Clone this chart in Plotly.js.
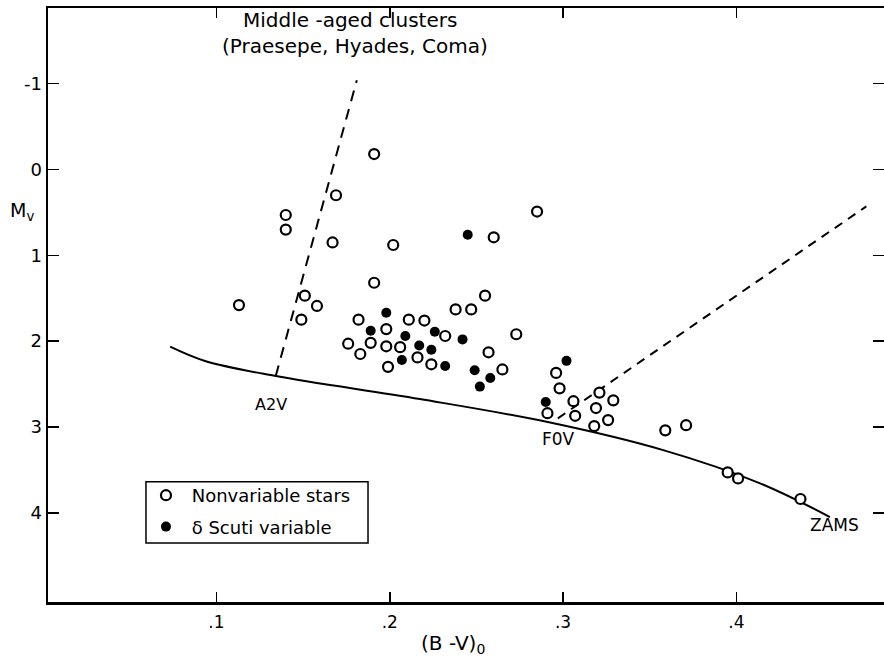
<!DOCTYPE html>
<html>
<head>
<meta charset="utf-8">
<script src="https://cdn.plot.ly/plotly-3.0.1.min.js"></script>
<style>html,body{margin:0;padding:0;background:#fff;}#chart{width:884px;height:665px;}</style>
</head>
<body>
<div id="chart"></div>
<script>
// Nonvariable stars (open circles)
var nonvarBV = [0.191, 0.169, 0.140, 0.140, 0.167, 0.285, 0.260, 0.202, 0.113, 0.151, 0.158, 0.149,
  0.191, 0.255, 0.238, 0.247, 0.182, 0.211, 0.220, 0.273, 0.198, 0.232, 0.176, 0.189, 0.198, 0.206,
  0.183, 0.216, 0.224, 0.199, 0.257, 0.265, 0.296, 0.298, 0.291, 0.306, 0.307, 0.321, 0.329, 0.319,
  0.326, 0.318, 0.359, 0.371, 0.395, 0.401, 0.437];
var nonvarMv = [-0.18, 0.30, 0.53, 0.70, 0.85, 0.49, 0.79, 0.88, 1.58, 1.47, 1.59, 1.75,
  1.32, 1.47, 1.63, 1.63, 1.75, 1.75, 1.76, 1.92, 1.86, 1.94, 2.03, 2.02, 2.06, 2.07,
  2.15, 2.19, 2.27, 2.30, 2.13, 2.33, 2.37, 2.55, 2.84, 2.70, 2.87, 2.60, 2.69, 2.78,
  2.92, 2.99, 3.04, 2.98, 3.53, 3.60, 3.84];
// delta Scuti variables (filled circles)
var dscutiBV = [0.245, 0.198, 0.189, 0.209, 0.226, 0.242, 0.217, 0.224, 0.207, 0.232, 0.249, 0.258, 0.252, 0.302, 0.290];
var dscutiMv = [0.76, 1.67, 1.88, 1.94, 1.89, 1.98, 2.05, 2.10, 2.22, 2.29, 2.34, 2.43, 2.53, 2.23, 2.71];
// ZAMS curve
var zamsBV = [0.0733, 0.0934, 0.1342, 0.2174, 0.2905, 0.3578, 0.4137, 0.454];
var zamsMv = [2.065, 2.232, 2.407, 2.675, 2.940, 3.270, 3.657, 4.05];
// Middle-aged clusters line (from A2V)
var clusterBV = [0.1342, 0.181];
var clusterMv = [2.407, -1.04];
// Line from F0V
var f0BV = [0.297, 0.475];
var f0Mv = [2.90, 0.43];
// tick labels
var xTickVals = [0.1, 0.2, 0.3, 0.4];
var xTickText = ['.1', '.2', '.3', '.4'];
var yTickVals = [-1, 0, 1, 2, 3, 4];
var yTickText = ['-1', '0', '1', '2', '3', '4'];

var FONT = 'DejaVu Sans, Arial, sans-serif';
var NB = '\u00a0';

var traces = [
  {x: zamsBV, y: zamsMv, mode: 'lines', line: {color: '#000', width: 2, shape: 'spline', smoothing: 1}, showlegend: false, hoverinfo: 'skip'},
  {x: clusterBV, y: clusterMv, mode: 'lines', line: {color: '#000', width: 2, dash: '11px,8px'}, showlegend: false, hoverinfo: 'skip'},
  {x: f0BV, y: f0Mv, mode: 'lines', line: {color: '#000', width: 2, dash: '9px,7px'}, showlegend: false, hoverinfo: 'skip'},
  {x: nonvarBV, y: nonvarMv, mode: 'markers', name: NB + 'Nonvariable stars' + NB + NB, legendgroup: 'a',
   marker: {symbol: 'circle', size: 10, color: '#fff', line: {color: '#000', width: 2.2}}},
  {x: dscutiBV, y: dscutiMv, mode: 'markers', name: NB + 'δ Scuti variable', legendgroup: 'b',
   marker: {symbol: 'circle', size: 10, color: '#000', line: {color: '#000', width: 0}}}
];

var layout = {
  width: 884, height: 665,
  margin: {l: 48, r: 0, t: 8, b: 63},
  paper_bgcolor: '#fff', plot_bgcolor: '#fff',
  font: {family: FONT, size: 17, color: '#000'},
  showlegend: true,
  legend: {x: 0.1172, y: 0.2104, xanchor: 'left', yanchor: 'top', bgcolor: 'rgba(0,0,0,0)',
           borderwidth: 0, font: {family: FONT, size: 18, color: '#000'},
           traceorder: 'grouped', tracegroupgap: 5},
  shapes: [
    {type: 'rect', xref: 'paper', yref: 'paper', x0: 0.1172, x1: 0.3828, y0: 0.0993, y1: 0.2025,
     line: {color: '#000', width: 1.5}, fillcolor: '#fff', layer: 'above'}
  ],
  xaxis: {range: [0.0028, 0.4852], tickvals: xTickVals, ticktext: xTickText,
          ticks: 'inside', ticklen: 10, tickwidth: 1.5, tickcolor: '#000',
          showline: true, linewidth: 2.5, linecolor: '#000', mirror: 'ticks',
          showgrid: false, zeroline: false, ticklabelstandoff: 3,
          tickfont: {family: FONT, size: 17, color: '#000'}},
  yaxis: {range: [5.04, -1.882], tickvals: yTickVals, ticktext: yTickText,
          ticks: 'inside', ticklen: 11, tickwidth: 1.5, tickcolor: '#000',
          showline: true, linewidth: 2.5, linecolor: '#000', mirror: 'ticks',
          showgrid: false, zeroline: false, ticklabelstandoff: 0,
          tickfont: {family: FONT, size: 18, color: '#000'}},
  annotations: [
    {x: 0.1771, y: -1.742, xref: 'x', yref: 'y', text: 'Middle -aged clusters', showarrow: false, font: {size: 20}},
    {x: 0.1799, y: -1.44, xref: 'x', yref: 'y', text: '(Praesepe, Hyades, Coma)', showarrow: false, font: {size: 20}},
    {x: 0.1315, y: 2.733, xref: 'x', yref: 'y', text: 'A2V', showarrow: false, font: {size: 16}},
    {x: 0.2971, y: 3.14, xref: 'x', yref: 'y', text: 'F0V', showarrow: false, font: {size: 17}},
    {x: 0.4568, y: 4.14, xref: 'x', yref: 'y', text: 'ZAMS', showarrow: false, font: {size: 17}},
    {x: -0.0478, y: 0.6566, xref: 'paper', yref: 'paper', xanchor: 'left', text: 'M<sub>v</sub>', showarrow: false, font: {size: 19}},
    {x: 0.4844, y: -0.096, xref: 'paper', yref: 'paper', text: '(B -V)<sub>0</sub>', showarrow: false, font: {size: 20}}
  ]
};

Plotly.newPlot('chart', traces, layout, {displayModeBar: false, staticPlot: true});
</script>
</body>
</html>
